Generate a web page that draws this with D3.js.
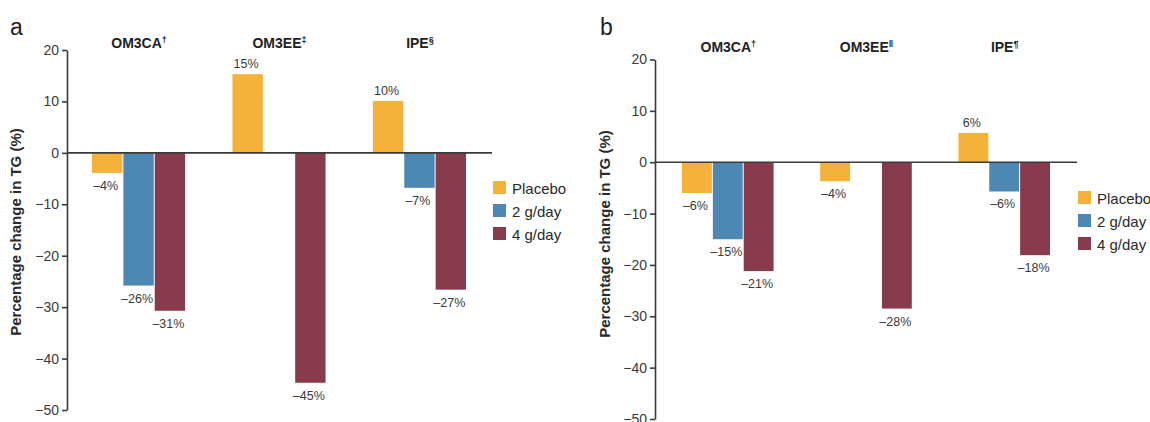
<!DOCTYPE html>
<html>
<head>
<meta charset="utf-8">
<script src="https://cdn.jsdelivr.net/npm/d3@7"></script>
<style>
  body { margin: 0; background: #fff; }
  svg { display: block; font-family: "Liberation Sans", Arial, sans-serif; }
</style>
</head>
<body>
<div id="chart"></div>
<script>
// data
var groups = ["OM3CA", "OM3EE", "IPE"];
var series = ["Placebo", "2 g/day", "4 g/day"];
var colors = ["#f4b23a", "#4d87b3", "#873b4c"];
var yTicks = [20, 10, 0, -10, -20, -30, -40, -50];

var supA = ["\u2020", "\u2021", "\u00a7"];
var placeboA = [-3.9, 15.3, 10.1];
var lowA = [-25.8, null, -6.8];
var highA = [-30.7, -44.7, -26.6];

var supB = ["\u2020", "\u2016", "\u00b6"];
var placeboB = [-6.0, -3.7, 5.7];
var lowB = [-15.0, null, -5.7];
var highB = [-21.2, -28.5, -18.1];

var svg = d3.select("#chart").append("svg")
    .attr("width", 1150)
    .attr("height", 422);

function pct(v) {
    var r = Math.round(v);
    return (r < 0 ? "\u2013" : "") + Math.abs(r) + "%";
}

function drawPanel(p) {
    var g = svg.append("g");

    var y = d3.scaleLinear().domain([-50, 20]).range([p.yBottom, p.yTop]);
    var x0 = d3.scaleBand().domain(groups).range([p.barStart, p.barEnd])
        .paddingInner(0.33).paddingOuter(0);
    var x1 = d3.scaleBand().domain(series).range([0, x0.bandwidth()]);

    var rows = [];
    groups.forEach(function (grp, i) {
        [p.placebo, p.low, p.high].forEach(function (arr, j) {
            if (arr[i] != null) rows.push({ group: grp, s: series[j], c: colors[j], v: arr[i] });
        });
    });

    // bars
    g.selectAll(".bar").data(rows).enter().append("rect")
        .attr("class", "bar")
        .attr("x", function (d) { return x0(d.group) + x1(d.s); })
        .attr("y", function (d) { return y(Math.max(0, d.v)); })
        .attr("width", x1.bandwidth() - 1)
        .attr("height", function (d) { return Math.abs(y(d.v) - y(0)); })
        .attr("fill", function (d) { return d.c; });

    // value labels
    g.selectAll(".val").data(rows).enter().append("text")
        .attr("class", "val")
        .attr("x", function (d) { return x0(d.group) + x1(d.s) + x1.bandwidth() / 2 - 2; })
        .attr("y", function (d) { return d.v < 0 ? y(d.v) + 17 : y(d.v) - 6; })
        .attr("text-anchor", "middle")
        .style("font-size", "12.5px")
        .attr("fill", "#3a3a3a")
        .text(function (d) { return pct(d.v); });

    // y axis
    var ax = g.append("g")
        .attr("transform", "translate(" + p.axisX + ",0)")
        .call(d3.axisLeft(y).tickValues(yTicks).tickSize(5).tickSizeOuter(0).tickPadding(3));
    ax.select(".domain").attr("stroke", "#3a3a3a").attr("stroke-width", 1.6);
    ax.selectAll(".tick line").attr("stroke", "#3a3a3a").attr("stroke-width", 1.6);
    ax.selectAll(".tick text").attr("fill", "#3a3a3a")
        .style("font-size", "14px").style("font-family", "Liberation Sans, Arial, sans-serif");

    // zero line
    g.append("line")
        .attr("x1", p.axisX).attr("x2", p.zeroEnd)
        .attr("y1", y(0)).attr("y2", y(0))
        .attr("stroke", "#3a3a3a").attr("stroke-width", 1.6);

    // group titles
    var t = g.selectAll(".grp").data(groups).enter().append("text")
        .attr("class", "grp")
        .attr("x", function (d) { return x0(d) + x0.bandwidth() / 2; })
        .attr("y", p.titleY)
        .attr("text-anchor", "middle")
        .style("font-size", "14px")
        .style("font-weight", "bold")
        .attr("fill", "#222");
    t.append("tspan").text(function (d) { return d; });
    t.append("tspan")
        .attr("dy", -5)
        .style("font-size", "9px")
        .text(function (d, i) { return p.sup[i]; });

    // y axis title
    g.append("text")
        .attr("transform", "translate(" + p.labelX + "," + p.labelY + ") rotate(-90)")
        .attr("text-anchor", "middle")
        .style("font-size", "15px")
        .style("font-weight", "bold")
        .attr("fill", "#2a2a2a")
        .text("Percentage change in TG (%)");

    // panel letter
    g.append("text")
        .attr("x", p.letterX).attr("y", 35)
        .style("font-size", "23px")
        .attr("fill", "#222")
        .text(p.letter);

    // legend
    var leg = g.selectAll(".leg").data(series).enter().append("g")
        .attr("class", "leg")
        .attr("transform", function (d, i) { return "translate(" + p.legX + "," + (p.legY + i * 23) + ")"; });
    leg.append("rect")
        .attr("x", 0).attr("y", -7)
        .attr("width", 13).attr("height", 13)
        .attr("fill", function (d, i) { return colors[i]; });
    leg.append("text")
        .attr("x", 19).attr("y", 5.5)
        .style("font-size", "15px")
        .attr("fill", "#2a2a2a")
        .text(function (d) { return d; });
}

drawPanel({
    letter: "a", letterX: 10,
    sup: supA, placebo: placeboA, low: lowA, high: highA,
    axisX: 67, zeroEnd: 492, yTop: 50, yBottom: 410,
    barStart: 92, barEnd: 467, titleY: 48,
    labelX: 21, labelY: 232,
    legX: 493, legY: 188
});

drawPanel({
    letter: "b", letterX: 600,
    sup: supB, placebo: placeboB, low: lowB, high: highB,
    axisX: 655, zeroEnd: 1077, yTop: 59.5, yBottom: 419,
    barStart: 682, barEnd: 1051, titleY: 52,
    labelX: 610, labelY: 234,
    legX: 1078, legY: 198
});
</script>
</body>
</html>
